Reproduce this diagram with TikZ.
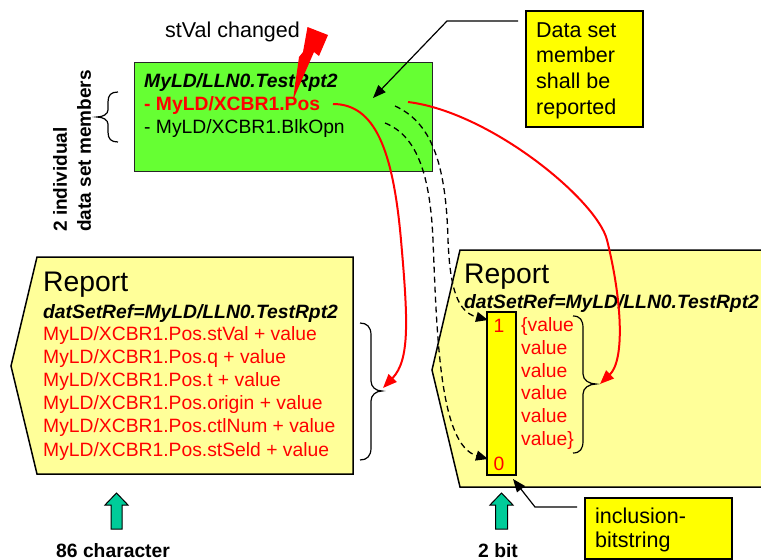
\documentclass[tikz,border=0pt]{standalone}
\usepackage{fontspec}
\setmainfont{Liberation Sans}
\usetikzlibrary{arrows.meta}
\definecolor{dsgreen}{RGB}{102,255,51}
\definecolor{repyellow}{RGB}{255,255,153}
\definecolor{callyellow}{RGB}{255,255,0}
\definecolor{tealgreen}{RGB}{0,204,153}
\newcommand\myfs[2]{\fontsize{#1}{#2}\selectfont}
\begin{document}
\begin{tikzpicture}[x=1pt,y=-1pt,
  txt/.style={inner sep=0pt, anchor=base west},
  body/.style={font=\myfs{19.3}{23}},
  bodybi/.style={font=\bfseries\itshape\myfs{19.3}{23}},
  bodyb/.style={font=\bfseries\myfs{19.3}{23}},
  big/.style={font=\myfs{21.5}{25.7}},
  title/.style={font=\myfs{28.3}{30}},
  redtxt/.style={text=red},
  callout/.style={draw=black, fill=callyellow, line width=1.5pt, inner sep=0pt, anchor=north west},
  redcurve/.style={draw=red, line width=2pt, -{Triangle[length=14pt,width=11pt]}},
  dashcurve/.style={draw=black, line width=1.3pt, dash pattern=on 6pt off 4pt, -{Triangle[length=12pt,width=10pt]}},
  calline/.style={draw=black, line width=1.2pt, -{Triangle[length=13pt,width=10pt]}},
  bracepath/.style={draw=black, line width=1.2pt},
  report/.style={fill=repyellow, draw=black, line width=1.5pt},
  uparrow/.style={fill=tealgreen, draw=black, line width=1pt},
]
\useasboundingbox (0,0) rectangle (761,560);
\fill[white] (0,0) rectangle (761,560);

% data set box
\node[draw=black!85, fill=dsgreen, line width=1pt, minimum width=298pt, minimum height=109pt, inner sep=0pt, anchor=north west] (ds) at (134,62) {};
\node[txt, bodybi] (dsname) at (144,87) {MyLD/LLN0.TestRpt2};
\node[txt, bodyb, redtxt] (dspos) at (144,110) {- MyLD/XCBR1.Pos};
\node[txt, body] (dsblk) at (144,133) {- MyLD/XCBR1.BlkOpn};

% stVal changed + bolt
\node[txt, big] (stval) at (165,37) {stVal changed};
\fill[red] (307.5,27) -- (328,35) -- (319,56) -- (314,52) -- (293,100) -- (299,57) -- (303,52) -- cycle;

% side label and brace
\node[rotate=90, anchor=west, align=left, inner sep=0pt, font=\bfseries\myfs{19}{24}] (side) at (72,232) {2 individual\\data set members};
\draw[bracepath] (118,92) .. controls (111,92) and (108,95) .. (108,102) -- (108,110) .. controls (108,114) and (103,117) .. (97,117) .. controls (103,117) and (108,120) .. (108,124) -- (108,132) .. controls (108,139) and (111,142) .. (118,142);

% left report
\filldraw[report] (37,257) -- (353,257) -- (353,474) -- (37,474) -- (11,366) -- cycle;
\node[txt, title] (rep1) at (43,291) {Report};
\node[txt, bodybi] (ref1) at (43,318) {datSetRef=MyLD/LLN0.TestRpt2};
\foreach \mm [count=\i] in {stVal, q, t, origin, ctlNum, stSeld}
  \node[txt, body, redtxt] (m\i) at (43,{340+(\i-1)*23.2}) {MyLD/XCBR1.Pos.\mm{} + value};
\draw[bracepath] (360,323) .. controls (367,323) and (371,327) .. (371,335) -- (371,381) .. controls (371,387) and (376,391) .. (382,391) .. controls (376,391) and (371,395) .. (371,401) -- (371,448) .. controls (371,456) and (367,460) .. (360,460);

% right report
\filldraw[report] (775,250) -- (460,250) -- (432,370) -- (460,487) -- (775,487);
\node[txt, title] (rep2) at (464,283) {Report};
\node[txt, bodybi] (ref2) at (464,308) {datSetRef=MyLD/LLN0.TestRpt2};
\node[draw=black, fill=callyellow, line width=2pt, minimum width=29pt, minimum height=163pt, inner sep=0pt, anchor=north west] (bits) at (486,311) {};
\node[inner sep=0pt, anchor=base, body, redtxt] (b1) at (499,332) {1};
\node[inner sep=0pt, anchor=base, body, redtxt] (b0) at (499,470) {0};
\node[txt, body, redtxt] (v1) at (521,331) {\{value};
\node[txt, body, redtxt] (v2) at (521,354) {value};
\node[txt, body, redtxt] (v3) at (521,377) {value};
\node[txt, body, redtxt] (v4) at (521,399) {value};
\node[txt, body, redtxt] (v5) at (521,422) {value};
\node[txt, body, redtxt] (v6) at (521,445) {value\}};
\draw[bracepath] (573,316) .. controls (580,316) and (583,320) .. (583,328) -- (583,374) .. controls (583,380) and (589,384) .. (596,384) .. controls (589,384) and (583,388) .. (583,394) -- (583,441) .. controls (583,449) and (580,453) .. (573,453);

% callouts
\node[callout, minimum width=117pt, minimum height=116pt] (c1) at (525,10) {};
\foreach \w [count=\i] in {Data set, member, shall be, reported}
  \node[txt, big] (c1t\i) at (536,{37+(\i-1)*25.7}) {\w};
\node[callout, minimum width=147pt, minimum height=61pt] (c2) at (584,497) {};
\node[txt, big] (c2a) at (595,523) {inclusion-};
\node[txt, big] (c2b) at (595,547) {bitstring};

% up arrows and labels
\filldraw[uparrow] (116.5,493) -- (128,505) -- (122,505) -- (122,529) -- (111,529) -- (111,505) -- (105,505) -- cycle;
\filldraw[uparrow] (501.5,493) -- (513,505) -- (507.5,505) -- (507.5,529) -- (495.5,529) -- (495.5,505) -- (490,505) -- cycle;
\node[txt, bodyb] (lab86) at (56,557) {86 character};
\node[txt, bodyb] (lab2) at (478,557) {2 bit};

% callout connectors
\coordinate (c1bend) at (447,21);
\coordinate (c1tip) at (373,98);
\draw[calline] ([xshift=-7pt,yshift=-11pt]c1.north west) -- (c1bend) -- (c1tip);
\coordinate (c2bend) at (535,507);
\coordinate (c2tip) at (513,479);
\draw[calline] ([xshift=-7pt,yshift=-10pt]c2.north west) -- (c2bend) -- (c2tip);

% red curves
\coordinate (r1s) at (333,104);
\coordinate (r1e) at (383,388);
\draw[redcurve] (r1s) .. controls (375,104) and (393,150) .. (401,240) .. controls (408,320) and (410,360) .. (r1e);
\coordinate (r2s) at (408,102);
\coordinate (r2e) at (600,384);
\draw[redcurve] (r2s) .. controls (490,112) and (597,200) .. (607,240) .. controls (622,300) and (625,360) .. (r2e);

% dashed curves
\coordinate (dAs) at (395,106);
\coordinate (dAe) at (488,320);
\draw[dashcurve] (dAs) .. controls (430,122) and (446,160) .. (448,240) .. controls (450,290) and (458,312) .. (dAe);
\coordinate (dBs) at (385,123);
\coordinate (dBe) at (488,459);
\draw[dashcurve] (dBs) .. controls (415,135) and (430,170) .. (433,240) .. controls (437,340) and (440,445) .. (dBe);
\end{tikzpicture}
\end{document}
